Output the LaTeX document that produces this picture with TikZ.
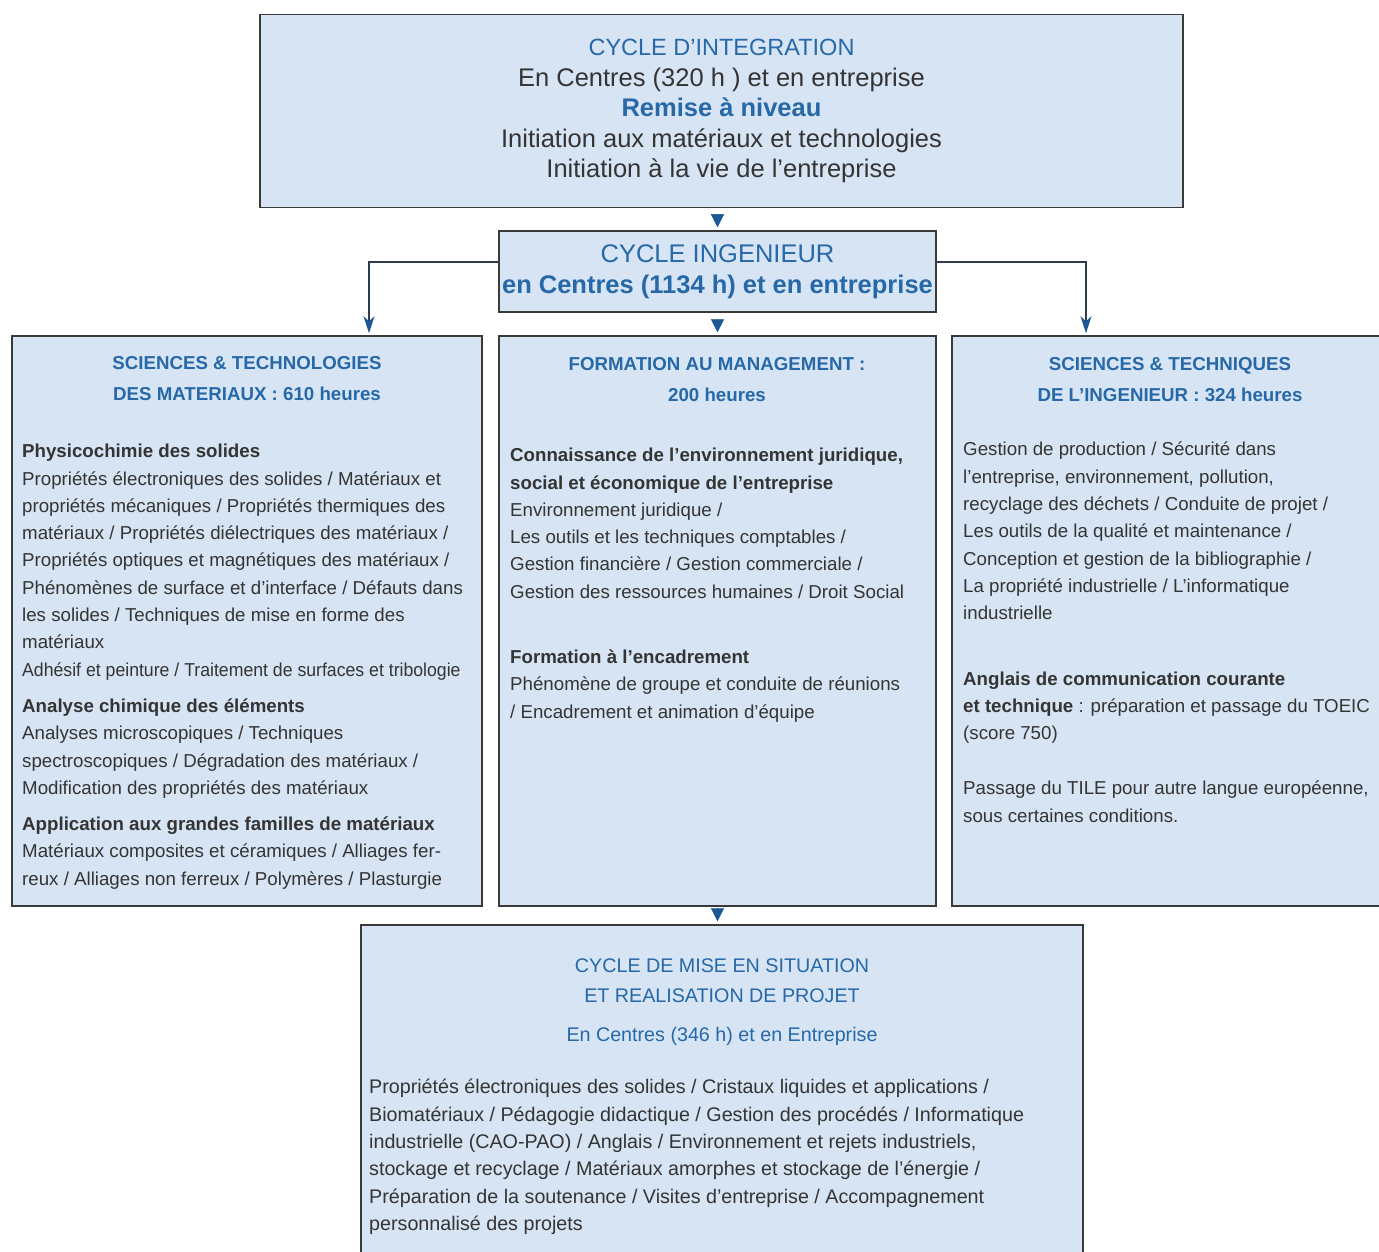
\documentclass[tikz,border=0pt]{standalone}
\usepackage{graphicx}
\usepackage{xcolor}
\usepackage{fontspec}
\setmainfont{Liberation Sans}
\usepackage{tikz}
\usetikzlibrary{arrows.meta,calc}
\definecolor{boxfill}{RGB}{214,228,243}
\definecolor{titleblue}{RGB}{38,104,168}
\definecolor{textgray}{RGB}{52,52,52}
\definecolor{bordergray}{RGB}{58,58,58}
\definecolor{arrowblue}{RGB}{28,88,148}
\definecolor{linegray}{RGB}{45,60,78}
\newcommand{\colfont}{\fontsize{18.7}{27.3}\selectfont}

\begin{document}
\begin{tikzpicture}[x=1pt,y=-1pt]
          \useasboundingbox (0,0) rectangle (1379,1252);
          \clip (0,0) rectangle (1379,1252);
          \tikzstyle{every node}=[inner sep=0pt, text=textgray]
          \tikzstyle{boite}=[draw=bordergray, line width=1.5pt, fill=boxfill]
          \tikzstyle{titre}=[anchor=north, align=center, text=titleblue, font=\fontsize{18.7}{31}\selectfont\bfseries]
          \tikzstyle{corps}=[anchor=north west, align=left, font=\colfont]
          \tikzstyle{fleche}=[-{Triangle[width=13pt,length=13pt]}, draw=arrowblue, fill=arrowblue, shorten >=3pt]
          \tikzstyle{lien}=[draw=linegray, line width=1.4pt, shorten >=2pt, -{Stealth[width=11pt,length=17pt,inset=5pt,color=arrowblue]}]

          % cycle d'integration
          \node[boite, minimum width=923pt, minimum height=193pt, align=center, font=\fontsize{25.5}{30.5}\selectfont] (CI) at (721.5,111)
            {\textcolor{titleblue}{\fontsize{23.5}{30.5}\selectfont CYCLE D’INTEGRATION}\\
             En Centres (320 h ) et en entreprise\\
             \textcolor{titleblue}{\textbf{Remise à niveau}}\\
             Initiation aux matériaux et technologies\\
             Initiation à la vie de l’entreprise};

          % cycle ingenieur
          \node[boite, minimum width=437pt, minimum height=81pt, align=center, text=titleblue, font=\fontsize{25.5}{31}\selectfont] (CE) at (717.5,271.5)
            {CYCLE INGENIEUR\\\textbf{en Centres (1134 h) et en entreprise}};

          % les trois colonnes
          \node[boite, minimum width=470pt, minimum height=570pt] (ST) at (247,621) {};
          \node[boite, minimum width=437pt, minimum height=570pt] (FM) at (717.5,621) {};
          \node[boite, minimum width=436pt, minimum height=570pt] (SI) at (1170,621) {};

          \node[titre] (STt) at (247,356) {SCIENCES \& TECHNOLOGIES\\DES MATERIAUX : 610 heures};
          \node[titre] (FMt) at (717,357) {FORMATION AU MANAGEMENT :\\200 heures};
          \node[titre] (SIt) at (1170,357) {SCIENCES \& TECHNIQUES\\DE L’INGENIEUR : 324 heures};

          \node[corps] (STc) at (22,444)
            {\textbf{Physicochimie des solides}\\
             Propriétés électroniques des solides / Matériaux et\\
             propriétés mécaniques / Propriétés thermiques des\\
             matériaux / Propriétés diélectriques des matériaux /\\
             Propriétés optiques et magnétiques des matériaux /\\
             Phénomènes de surface et d’interface / Défauts dans\\
             les solides / Techniques de mise en forme des\\
             matériaux\\
             \scalebox{0.945}[1]{Adhésif et peinture / Traitement de surfaces et tribologie}\\[9pt]
             \textbf{Analyse chimique des éléments}\\
             Analyses microscopiques / Techniques\\
             spectroscopiques / Dégradation des matériaux /\\
             Modification des propriétés des matériaux\\[9pt]
             \textbf{Application aux grandes familles de matériaux}\\
             Matériaux composites et céramiques / Alliages fer-\\
             reux / Alliages non ferreux / Polymères / Plasturgie};

          \node[corps] (FMc) at (510,448)
            {\textbf{Connaissance de l’environnement juridique,}\\
             \textbf{social et économique de l’entreprise}\\
             Environnement juridique /\\
             Les outils et les techniques comptables /\\
             Gestion financière / Gestion commerciale /\\
             Gestion des ressources humaines / Droit Social\\[38pt]
             \textbf{Formation à l’encadrement}\\
             Phénomène de groupe et conduite de réunions\\
             / Encadrement et animation d’équipe};

          \node[corps] (SIc) at (963,442)
            {Gestion de production / Sécurité dans\\
             l’entreprise, environnement, pollution,\\
             recyclage des déchets / Conduite de projet /\\
             Les outils de la qualité et maintenance /\\
             Conception et gestion de la bibliographie /\\
             La propriété industrielle / L’informatique\\
             industrielle\\[38pt]
             \textbf{Anglais de communication courante}\\
             \textbf{et technique} : préparation et passage du TOEIC\\
             (score 750)\\[28pt]
             Passage du TILE pour autre langue européenne,\\
             sous certaines conditions.};

          % cycle de mise en situation
          \node[boite, minimum width=722pt, minimum height=340pt] (CM) at (722,1095) {};
          \node[titre, font=\fontsize{19.7}{30}\selectfont] (CMt) at (722,959)
            {CYCLE DE MISE EN SITUATION\\ET REALISATION DE PROJET\\[9pt]En Centres (346 h) et en Entreprise};
          \node[corps, font=\fontsize{19.7}{27.4}\selectfont] (CMc) at (369,1079)
            {Propriétés électroniques des solides / Cristaux liquides et applications /\\
             Biomatériaux / Pédagogie didactique / Gestion des procédés / Informatique\\
             industrielle (CAO-PAO) / Anglais / Environnement et rejets industriels,\\
             stockage et recyclage / Matériaux amorphes et stockage de l’énergie /\\
             Préparation de la soutenance / Visites d’entreprise / Accompagnement\\
             personnalisé des projets};

          % liens
          \draw[fleche, shorten <=9pt] (CE.north |- CI.south) -- (CE.north);
          \draw[fleche, shorten <=8pt] (CE.south) -- (FM.north);
          \draw[fleche, shorten <=2pt] (FM.south) -- (FM.south |- CM.north);
          \draw[lien] ([yshift=9.5pt]CE.west) -| ([xshift=122pt]ST.north);
          \draw[lien] ([yshift=9.5pt]CE.east) -| ([xshift=-84pt]SI.north);
\end{tikzpicture}
\end{document}
